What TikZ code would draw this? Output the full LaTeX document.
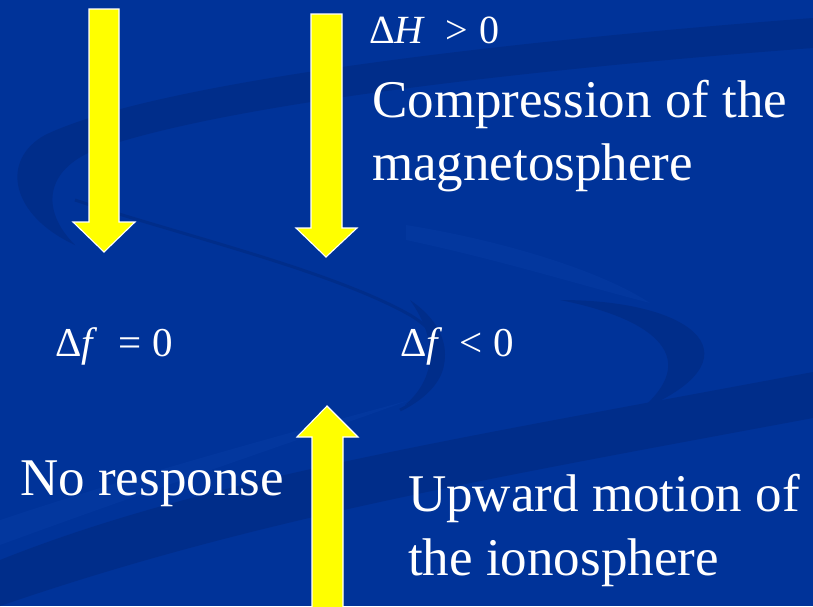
\documentclass[tikz,border=0pt]{standalone}
\usepackage{fontspec}
\setmainfont{Liberation Serif}
\definecolor{bgblue}{RGB}{0,51,153}
\definecolor{darkband}{RGB}{0,45,138}
\definecolor{lightband}{RGB}{3,55,158}
\definecolor{arrowy}{RGB}{255,255,0}
\tikzset{
  yarrow/.style={fill=arrowy, draw=white, line width=1.1pt, line join=miter},
  bigtxt/.style={text=white, inner sep=0pt, anchor=base west, font=\fontsize{53}{63}\selectfont, align=left},
  mathtxt/.style={text=white, inner sep=0pt, anchor=base west, font=\fontsize{41}{48}\selectfont}
}
\begin{document}
\begin{tikzpicture}[x=1pt,y=-1pt]
\useasboundingbox (0,0) rectangle (813,606);
\fill[bgblue] (0,0) rectangle (813,606);
% background swirl
\fill[darkband] (813,18) .. controls (520,40) and (160,80) .. (45,135)
  .. controls (0,160) and (10,215) .. (75,245)
  .. controls (40,210) and (45,170) .. (95,150)
  .. controls (220,105) and (520,70) .. (813,48) -- cycle;
\draw[darkband, line width=3pt] (75,200) .. controls (180,235) and (330,270) .. (410,315)
  .. controls (460,345) and (450,385) .. (400,410);
\fill[darkband] (410,300) .. controls (455,330) and (460,380) .. (405,405)
  .. controls (440,375) and (435,335) .. (410,300) -- cycle;
\fill[darkband] (560,300) .. controls (700,300) and (760,360) .. (640,410)
  .. controls (700,360) and (660,320) .. (560,300) -- cycle;
\fill[darkband] (0,560) .. controls (200,480) and (450,440) .. (813,372)
  -- (813,418) .. controls (480,480) and (250,520) .. (0,606) -- cycle;
\fill[lightband] (0,520) .. controls (150,470) and (300,430) .. (410,400)
  .. controls (300,440) and (150,490) .. (0,545) -- cycle;
\fill[lightband] (406,225) .. controls (500,240) and (600,270) .. (650,303)
  .. controls (580,285) and (500,260) .. (406,240) -- cycle;
% arrows
\draw[yarrow] (89,9) -- (119,9) -- (119,222) -- (135,222) -- (104,252) -- (73,222) -- (89,222) -- cycle;
\draw[yarrow] (311,14) -- (342,14) -- (342,228) -- (357,228) -- (326,257) -- (296,228) -- (311,228) -- cycle;
\draw[yarrow] (312,612) -- (343,612) -- (343,437) -- (358,437) -- (327,406) -- (297,437) -- (312,437) -- cycle;
% texts
\node[mathtxt,font=\fontsize{40}{46}\selectfont] (dH) at (369,43) {Δ\textit{H}\hspace{0.5em}>\hspace{0.28em}0};
\node[bigtxt] (comp) at (372,117) {Compression of the};
\node[bigtxt] (magn) at (372,180) {magnetosphere};
\node[mathtxt] (df0) at (55,356) {Δ\textit{f}\hspace{0.5em}=\hspace{0.28em}0};
\node[mathtxt] (dfn) at (400,356) {Δ\textit{f}\hspace{0.42em}<\hspace{0.25em}0};
\node[bigtxt] (nores) at (20,495) {No response};
\node[bigtxt] (upw) at (408,511) {Upward motion of};
\node[bigtxt] (iono) at (408,575) {the ionosphere};
\end{tikzpicture}
\end{document}
